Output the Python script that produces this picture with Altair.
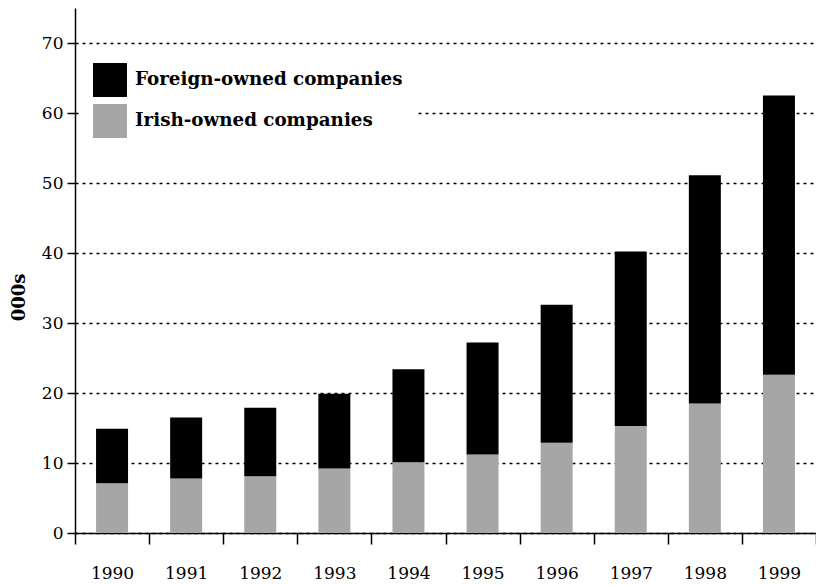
import altair as alt
import pandas as pd

years = ["1990", "1991", "1992", "1993", "1994", "1995", "1996", "1997", "1998", "1999"]
irish = [7.1, 7.8, 8.1, 9.2, 10.1, 11.2, 12.9, 15.3, 18.5, 22.6]
foreign = [7.8, 8.7, 9.8, 10.7, 13.3, 16.0, 19.7, 24.9, 32.6, 39.9]
series = ["Foreign-owned companies", "Irish-owned companies"]
colors = ["#000000", "#a6a6a6"]
y_ticks = [0, 10, 20, 30, 40, 50, 60, 70]

rows = []
for i, yr in enumerate(years):
    rows.append({"year": yr, "series": series[1], "value": irish[i], "ord": 0})
    rows.append({"year": yr, "series": series[0], "value": foreign[i], "ord": 1})
df = pd.DataFrame(rows)

FONT = "DejaVu Serif"

chart = alt.Chart(df).mark_bar(size=32).encode(
    x=alt.X("year:N", sort=years,
            scale=alt.Scale(paddingInner=0.0, paddingOuter=0.0),
            axis=alt.Axis(title=None, labelAngle=0, tickBand="extent", tickSize=11,
                          tickColor="black", tickWidth=1.5, domainColor="black",
                          domainWidth=1.5, labelFont=FONT, labelFontSize=17,
                          labelColor="black", labelPadding=21, grid=False)),
    y=alt.Y("value:Q", stack="zero",
            scale=alt.Scale(domain=[0, 75], nice=False),
            axis=alt.Axis(values=y_ticks, title="000s", grid=True, gridDash=[3, 4],
                          gridColor="black", gridWidth=1.5, gridOpacity=1,
                          domainColor="black", domainWidth=1.5, tickSize=8,
                          tickColor="black", tickWidth=1.5, labelFont=FONT,
                          labelFontSize=17, labelColor="black", labelPadding=4,
                          titleFont=FONT, titleFontSize=18, titleFontWeight="bold",
                          titleColor="black", titleX=-56, titleY=289,
                          titleBaseline="middle", titleAlign="center")),
    color=alt.Color("series:N",
                    scale=alt.Scale(domain=series, range=colors),
                    legend=alt.Legend(title=None, orient="none", legendX=6, legendY=43,
                                      symbolType="square", symbolSize=1156,
                                      symbolStrokeWidth=0, labelFont=FONT,
                                      labelFontSize=18.3, labelFontWeight="bold",
                                      labelColor="black", labelOffset=8,
                                      rowPadding=7, padding=12, fillColor="white",
                                      labelLimit=400)),
    order=alt.Order("ord:Q", sort="ascending"),
).properties(
    width=741, height=525,
    autosize=alt.AutoSizeParams(type="none"),
    padding={"left": 67, "top": 0, "right": 0, "bottom": 50},
    background="white",
).configure_view(stroke=None)

chart.save("out.html", embed_options={"renderer": "svg", "actions": False})
